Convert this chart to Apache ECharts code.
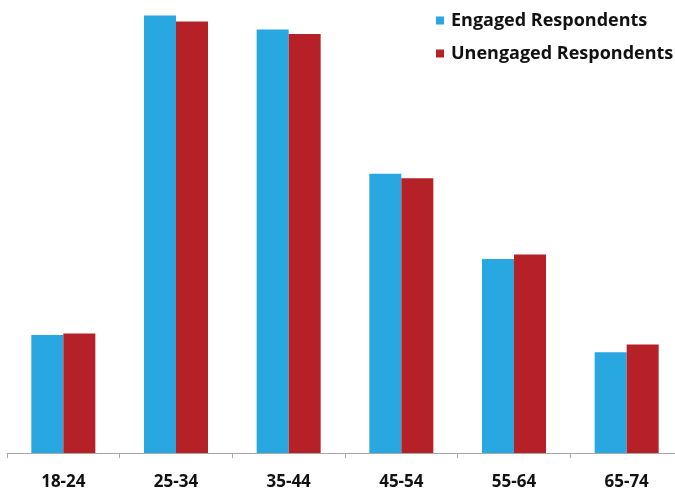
<!DOCTYPE html>
<html>
<head>
<meta charset="utf-8">
<style>
  html, body { margin: 0; padding: 0; background: #fff; }
  #chart { width: 675px; height: 491px; }
</style>
<script src="https://cdn.jsdelivr.net/npm/echarts@6/dist/echarts.min.js"></script>
</head>
<body>
<div id="chart"></div>
<script>
// Age groups and the share (%) of each respondent group in them
const ageGroups = ['18-24', '25-34', '35-44', '45-54', '55-64', '65-74'];
const engaged = [7.6, 28.2, 27.3, 18.0, 12.5, 6.5];
const unengaged = [7.7, 27.8, 27.0, 17.7, 12.8, 7.0];
const seriesNames = ['Engaged Respondents', 'Unengaged Respondents'];

const chart = echarts.init(document.getElementById('chart'), null, { renderer: 'canvas' });
const labelFont = '"Open Sans", "Liberation Sans", sans-serif';

chart.setOption({
  animation: false,
  color: ['#29A7E1', '#B52127'],
  legend: {
    orient: 'vertical',
    left: 431,
    top: 5,
    icon: 'rect',
    itemWidth: 8,
    itemHeight: 8,
    itemGap: 12,
    textStyle: { fontFamily: labelFont, fontWeight: 'bold', fontSize: 18, lineHeight: 21, color: '#111', padding: [0, 0, 0, 2] },
    data: seriesNames
  },
  grid: { left: 7, top: 3, width: 676, bottom: 38, outerBoundsMode: 'none', containLabel: false },
  xAxis: {
    type: 'category',
    data: ageGroups,
    axisLine: { lineStyle: { color: '#a6a6a6', width: 1 } },
    axisTick: { show: true, length: 5, lineStyle: { color: '#a6a6a6' } },
    axisLabel: { margin: 21, fontFamily: labelFont, fontWeight: 'bold', fontSize: 17, color: '#111' }
  },
  yAxis: {
    type: 'value',
    min: 0,
    max: 29,
    show: false,
    splitLine: { show: false }
  },
  series: [
    { name: seriesNames[0], type: 'bar', data: engaged, barWidth: 32, barGap: '0%' },
    { name: seriesNames[1], type: 'bar', data: unengaged, barWidth: 32, barGap: '0%' }
  ]
});
</script>
</body>
</html>
